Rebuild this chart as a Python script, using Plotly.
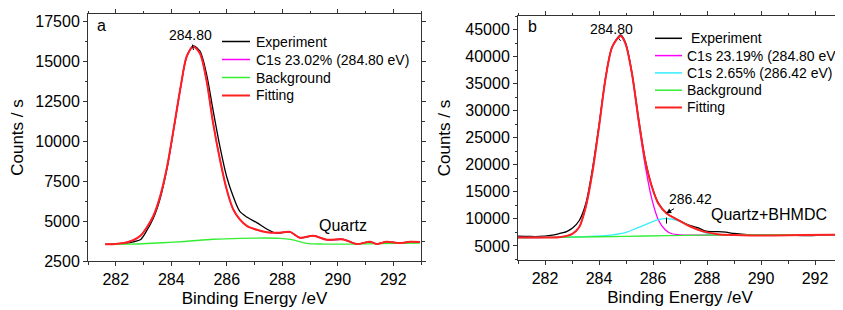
import plotly.graph_objects as go

# ---------------- Panel a (Quartz) ----------------
a_exp_x = [281.62, 282.0, 282.3, 282.63, 282.9, 283.1, 283.35, 283.6, 283.85, 284.1, 284.35, 284.56, 284.8,
           285.04, 285.27, 285.51, 285.76, 286.0, 286.24, 286.47, 286.72, 287.08, 287.44, 287.7, 287.92, 288.28,
           288.64, 289.12, 289.6, 290.2, 290.68, 291.16, 291.4, 291.76, 292.24, 292.6, 292.96]
a_exp_y = [3540, 3570, 3600, 3700, 3850, 4350, 5150, 6400, 8300, 10850, 13500, 15300, 15950,
           15600, 14200, 11900, 9600, 7750, 6500, 5600, 5250, 4900, 4500, 4280, 4250, 4320,
           3950, 4080, 3830, 3850, 3560, 3700, 3560, 3700, 3620, 3700, 3680]

a_fit_x = [281.62, 282.0, 282.3, 282.63, 282.9, 283.1, 283.35, 283.6, 283.85, 284.1, 284.35, 284.56, 284.8,
           285.04, 285.27, 285.51, 285.76, 286.0, 286.24, 286.47, 286.72, 287.08, 287.44, 287.92, 288.28,
           288.64, 289.12, 289.6, 290.2, 290.68, 291.16, 291.4, 291.76, 292.24, 292.6, 292.96]
a_fit_y = [3540, 3570, 3620, 3800, 4100, 4550, 5300, 6550, 8400, 10900, 13500, 15300, 15900,
           15450, 13800, 11100, 8800, 6950, 5700, 5100, 4700, 4450, 4300, 4270, 4320,
           3950, 4080, 3830, 3850, 3560, 3700, 3560, 3700, 3620, 3700, 3680]

a_c1s_x = a_fit_x
a_c1s_y = a_fit_y

a_bg_x = [281.62, 282.5, 283.7, 284.5, 285.5, 286.5, 287.92, 288.3, 288.88, 289.5, 290.5, 291.5, 292.96]
a_bg_y = [3540, 3550, 3640, 3720, 3860, 3920, 3920, 3850, 3600, 3560, 3560, 3580, 3620]

# ---------------- Panel b (Quartz+BHMDC) ----------------
b_exp_x = [281.0, 281.4, 281.8, 282.2, 282.5, 282.8, 283.02, 283.27, 283.51, 283.75, 284.0, 284.25, 284.49,
           284.8, 284.98, 285.22, 285.47, 285.71, 285.96, 286.2, 286.51, 286.94, 287.42, 287.7, 287.92,
           288.15, 288.4, 288.7, 289.0, 289.6, 290.2, 290.9, 291.3, 291.8, 292.3, 292.96]
b_exp_y = [6800, 6750, 6750, 6950, 7250, 7650, 8300, 9700, 12800, 19000, 27300, 36300, 41800,
           44000, 42600, 37000, 28400, 21000, 16000, 12900, 11000, 9800, 8700, 8300, 7800,
           7650, 7650, 7550, 7300, 7050, 7000, 7100, 6950, 6900, 7050, 7100]

b_fit_x = [281.0, 281.5, 282.0, 282.5, 283.0, 283.27, 283.51, 283.75, 284.0, 284.25, 284.49, 284.8,
           284.98, 285.22, 285.47, 285.71, 285.96, 286.2, 286.51, 286.94, 287.42, 287.92, 288.4,
           289.0, 289.63, 290.5, 291.5, 292.96]
b_fit_y = [6550, 6560, 6570, 6620, 7200, 8500, 12200, 18400, 27000, 36200, 41800, 43800,
           42400, 36900, 28200, 20800, 15900, 12800, 11000, 9750, 8500, 7600, 7160,
           7000, 6920, 6950, 7000, 7100]

b_c1s1_x = [281.0, 281.5, 282.0, 282.5, 283.0, 283.27, 283.51, 283.75, 284.0, 284.25, 284.49, 284.8,
            284.98, 285.22, 285.47, 285.71, 285.96, 286.2, 286.45, 286.7, 287.0, 287.5, 288.5, 290.0, 292.96]
b_c1s1_y = [6550, 6560, 6570, 6620, 7200, 8500, 12200, 18400, 27000, 36200, 41800, 43800,
            42400, 36800, 27800, 19900, 13600, 9800, 8000, 7250, 7050, 6980, 7000, 7000, 7080]

b_c1s2_x = [281.0, 282.5, 283.5, 284.5, 285.0, 285.35, 285.7, 285.96, 286.2, 286.45, 286.7, 286.94,
            287.2, 287.42, 287.7, 287.92, 288.2, 288.5, 289.0, 290.0, 292.96]
b_c1s2_y = [6550, 6600, 6720, 7050, 7500, 8200, 8900, 9450, 9850, 10060, 9950, 9620,
            9100, 8500, 7900, 7450, 7150, 7030, 6980, 6990, 7100]

b_bg_x = [281.0, 283.0, 285.0, 286.5, 288.0, 290.0, 292.96]
b_bg_y = [6550, 6620, 6780, 6900, 6990, 7030, 7100]

x_ticks = [282, 284, 286, 288, 290, 292]
a_y_ticks = [2500, 5000, 7500, 10000, 12500, 15000, 17500]
b_y_ticks = [5000, 10000, 15000, 20000, 25000, 30000, 35000, 40000, 45000]

a_legend_names = ["Experiment", "C1s 23.02% (284.80 eV)", "Background", "Fitting"]
b_legend_names = [" Experiment", "C1s 23.19% (284.80 eV)", "C1s 2.65% (286.42 eV)", "Background", "Fitting"]

FONT = "Arial, Liberation Sans, sans-serif"
BLACK = "#000000"
MAG = "#ff00ff"
CYAN = "#33eeff"
GREEN = "#33ee33"
RED = "#ff2020"

a_legend_colors = [BLACK, MAG, GREEN, RED]
b_legend_colors = [BLACK, MAG, CYAN, GREEN, RED]

fig = go.Figure()

def add(x, y, name, color, width, xa, ya):
    fig.add_trace(go.Scatter(x=x, y=y, mode="lines", name=name, xaxis=xa, yaxis=ya,
                             line=dict(color=color, width=width, shape="spline", smoothing=0.8),
                             showlegend=False))

# panel a
add(a_exp_x, a_exp_y, a_legend_names[0], BLACK, 1.3, "x", "y")
add(a_c1s_x, a_c1s_y, a_legend_names[1], MAG, 1.3, "x", "y")
add(a_bg_x, a_bg_y, a_legend_names[2], GREEN, 1.3, "x", "y")
add(a_fit_x, a_fit_y, a_legend_names[3], RED, 2, "x", "y")

# panel b
add(b_exp_x, b_exp_y, b_legend_names[0], BLACK, 1.3, "x2", "y2")
add(b_c1s1_x, b_c1s1_y, b_legend_names[1], MAG, 1.3, "x2", "y2")
add(b_c1s2_x, b_c1s2_y, b_legend_names[2], CYAN, 1.3, "x2", "y2")
add(b_bg_x, b_bg_y, b_legend_names[3], GREEN, 1.3, "x2", "y2")
add(b_fit_x, b_fit_y, b_legend_names[4], RED, 2, "x2", "y2")

# page body has an 8px margin: figure sits at (8, 8) in the 843x310 window
OFF = 8
W, H = 843 - OFF, 310 - OFF
PL, PR, PT, PB = 88, 842, 14, 261     # plot-area edges in window pixels
ML = PL - OFF
MR = W - (PR - OFF)
MT = PT - OFF
MB = H - (PB - OFF)
PW = W - ML - MR
PH = H - MT - MB

def px_x(p):
    return (p - PL) / PW

def px_y(p):
    return (PB - p) / PH

axis_common = dict(
    showline=True, linecolor="#333333", linewidth=1, mirror="ticks",
    ticks="outside", ticklen=4, tickwidth=1, tickcolor="#333333",
    showgrid=False, zeroline=False, tickformat="d", automargin=False,
    tickfont=dict(family=FONT, size=16, color="#000000"),
    title_font=dict(family=FONT, size=17, color="#000000"),
    minor=dict(ticks="outside", ticklen=2.5, tickwidth=1, tickcolor="#333333", showgrid=False),
)

fig.update_layout(
    width=W, height=H,
    margin=dict(l=ML, r=MR, t=MT, b=MB, autoexpand=False),
    paper_bgcolor="white", plot_bgcolor="white",
    font=dict(family=FONT, color="#000000"),
    showlegend=False,
    xaxis=dict(domain=[0, px_x(421)], range=[281, 293], tickvals=x_ticks,
               title=dict(text="Binding Energy /eV", standoff=4), anchor="y",
               minor_dtick=1, **axis_common),
    yaxis=dict(domain=[0, 1], range=[2500, 17940], tickvals=a_y_ticks,
               title=dict(text="Counts / s", standoff=10), anchor="x",
               minor_dtick=1250, **axis_common),
    xaxis2=dict(domain=[px_x(518), 1], range=[281, 293], tickvals=x_ticks,
                title=dict(text="Binding Energy /eV", standoff=4), anchor="y2",
                minor_dtick=1, **axis_common),
    yaxis2=dict(domain=[px_y(260), px_y(16)], range=[2400, 47500], tickvals=b_y_ticks,
                title=dict(text="Counts / s", standoff=10), anchor="x2",
                minor_dtick=2500, **axis_common),
)

leg_font = dict(family=FONT, size=14, color="#000")

def legend_block(names, colors, line_x0, line_x1, text_x, row_y0, row_dy):
    for i, (nm, col) in enumerate(zip(names, colors)):
        yy = px_y(row_y0 + i * row_dy)
        fig.add_shape(type="line", xref="paper", yref="paper",
                      x0=px_x(line_x0), x1=px_x(line_x1), y0=yy, y1=yy,
                      line=dict(color=col, width=2 if col == RED else 1.5))
        txt = nm.replace(" ", "&nbsp;", 1) if nm.startswith(" ") else nm
        fig.add_annotation(xref="paper", yref="paper", x=px_x(text_x), y=yy, text=txt,
                           showarrow=False, xanchor="left", yanchor="middle", font=leg_font)

legend_block(a_legend_names, a_legend_colors, 222, 250, 254, 41.5, 18)
legend_block(b_legend_names, b_legend_colors, 655, 682, 685, 38.3, 17.3)

ann_font = dict(family=FONT, size=14, color="#000")
big_font = dict(family=FONT, size=16, color="#000")

fig.add_annotation(x=281.25, y=17250, xref="x", yref="y", text="a", showarrow=False,
                   xanchor="left", font=big_font)
fig.add_annotation(x=281.31, y=45470, xref="x2", yref="y2", text="b", showarrow=False,
                   xanchor="left", font=big_font)
fig.add_annotation(x=284.8, y=15690, xref="x", yref="y", text="284.80", showarrow=True,
                   arrowhead=0, arrowwidth=1, arrowcolor="#000", ax=-3, ay=-15, font=ann_font)
fig.add_annotation(x=284.8, y=42900, xref="x2", yref="y2", text="284.80", showarrow=True,
                   arrowhead=0, arrowwidth=1, arrowcolor="#000", ax=-9, ay=-12, font=ann_font)
fig.add_annotation(x=286.49, y=11043, xref="x2", yref="y2", text="286.42", showarrow=True,
                   arrowhead=2, arrowsize=1, arrowwidth=1, arrowcolor="#000", ax=24, ay=-14,
                   font=ann_font)
fig.add_annotation(x=286.5, y=9140, xref="x2", yref="y2", text=" ", showarrow=True,
                   arrowhead=0, arrowwidth=1, arrowcolor="#000", ax=0, ay=-8,
                   font=dict(size=1))
fig.add_annotation(x=290.19, y=4750, xref="x", yref="y", text="Quartz", showarrow=False,
                   font=big_font)
fig.add_annotation(x=290.28, y=10800, xref="x2", yref="y2", text="Quartz+BHMDC", showarrow=False,
                   font=big_font)

fig.write_html("out.html")
